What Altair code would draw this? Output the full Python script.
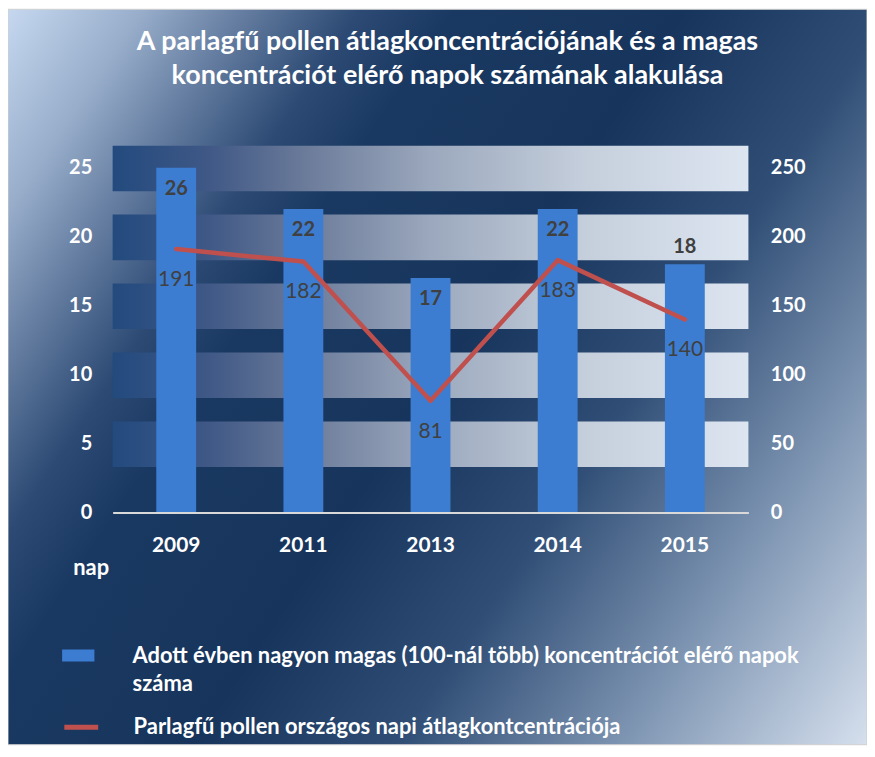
import altair as alt
import pandas as pd

# ---------------- data ----------------
years = ["2009", "2011", "2013", "2014", "2015"]
days = [26, 22, 17, 22, 18]              # napok száma (bal tengely)
conc = [191, 182, 81, 183, 140]          # átlagkoncentráció (jobb tengely)
left_ticks = [0, 5, 10, 15, 20, 25]
right_ticks = [0, 50, 100, 150, 200, 250]
band_lo = [3.3, 8.3, 13.3, 18.3, 23.3]   # decorative stripes (left-axis units)
band_hi = [6.6, 11.6, 16.6, 21.6, 26.6]
title_lines = ["A parlagfű pollen átlagkoncentrációjának és a magas",
               "koncentrációt elérő napok számának alakulása"]
s1 = "Adott évben nagyon magas (100-nál több) koncentrációt elérő napok száma"
s1_lines = ["Adott évben nagyon magas (100-nál több) koncentrációt elérő napok", "száma"]
s2 = "Parlagfű pollen országos napi átlagkontcentrációja"

FONT = "Lato"
W, H = 638, 346
PL, PT, PR, PB = 105, 159, 119, 233

df = pd.DataFrame({"year": years, "days": days, "conc": conc,
                   "s1": [s1] * 5, "s2": [s2] * 5})
bands = pd.DataFrame({"lo": band_lo, "hi": band_hi})

x_enc = alt.X("year:N", sort=years, scale=alt.Scale(paddingInner=0, paddingOuter=0),
              axis=alt.Axis(title=None, labelAngle=0, domainColor="#d9d9d9", domainWidth=2,
                            ticks=False, labelColor="white", labelFont=FONT, labelFontSize=21,
                            labelFontWeight="bold", labelPadding=22, grid=False, zindex=1))

bg_grad = alt.LinearGradient(
    gradient="linear", x1=0, y1=0, x2=1.185, y2=0.681,
    stops=[alt.GradientStop(color="#c6d8f0", offset=0),
           alt.GradientStop(color="#97adca", offset=0.1),
           alt.GradientStop(color="#6880a3", offset=0.17),
           alt.GradientStop(color="#2c4a74", offset=0.26),
           alt.GradientStop(color="#1a3962", offset=0.33),
           alt.GradientStop(color="#17355c", offset=0.5),
           alt.GradientStop(color="#2f4d75", offset=0.65),
           alt.GradientStop(color="#7f96b3", offset=0.82),
           alt.GradientStop(color="#d6e0ee", offset=1.0)])

band_grad = alt.LinearGradient(
    gradient="linear", x1=0, y1=0, x2=1, y2=0,
    stops=[alt.GradientStop(color="#234a7e", offset=0),
           alt.GradientStop(color="#3f5886", offset=0.15),
           alt.GradientStop(color="#6a7a99", offset=0.3),
           alt.GradientStop(color="#9ba8bd", offset=0.5),
           alt.GradientStop(color="#c6d0dd", offset=0.75),
           alt.GradientStop(color="#dce5f0", offset=1.0)])

background = alt.Chart(pd.DataFrame({"a": [0]})).mark_rect(
    color=bg_grad, stroke="#d0d0d0", strokeWidth=1).encode(
    x=alt.value(-PL), x2=alt.value(W + PR), y=alt.value(-PT), y2=alt.value(H + PB))

stripes = alt.Chart(bands).mark_rect(color=band_grad).encode(
    x=alt.value(0), x2=alt.value(W),
    y=alt.Y("lo:Q", scale=alt.Scale(domain=[0, 25]), axis=None),
    y2="hi:Q")

label_expr = ("datum.label == '%s' ? ['%s', '%s'] : datum.label"
              % (s1, s1_lines[0], s1_lines[1]))
leg_common = dict(title=None, orient="none", direction="vertical",
                  labelColor="white", labelFont=FONT, labelFontSize=22, labelFontWeight="bold",
                  labelLimit=900, labelExpr=label_expr)
legend_bar = alt.Legend(legendX=-51, legendY=473, symbolType="M-1,-0.37H1V0.37H-1Z",
                        symbolSize=1050, symbolStrokeWidth=0, labelOffset=38, **leg_common)
legend_line = alt.Legend(legendX=-51, legendY=542, symbolType="stroke",
                         symbolSize=1156, symbolStrokeWidth=5, labelOffset=33, **leg_common)

bars = alt.Chart(df).mark_bar(size=40, clip=True).encode(
    x=x_enc,
    y=alt.Y("days:Q", scale=alt.Scale(domain=[0, 25]),
            axis=alt.Axis(title="nap", values=left_ticks, orient="left", domain=False,
                          ticks=False, grid=False, labelColor="white", labelFont=FONT,
                          labelFontSize=20, labelFontWeight="bold", labelPadding=21,
                          titleAngle=0, titleX=-22, titleY=401, titleAlign="center",
                          titleBaseline="middle", titleColor="white", titleFont=FONT,
                          titleFontSize=22, titleFontWeight="bold", zindex=1)),
    fill=alt.Fill("s1:N", scale=alt.Scale(domain=[s1], range=["#3c7dd1"]), legend=legend_bar))

bar_labels_in = alt.Chart(df).transform_filter("datum.year != '2015'").transform_calculate(
    top="min(datum.days, 25)").mark_text(
    dy=21, font=FONT, fontSize=20, fontWeight="bold", color="#404040").encode(
    x=alt.X("year:N", sort=years, bandPosition=0.5),
    y=alt.Y("top:Q", scale=alt.Scale(domain=[0, 25]), axis=None),
    text="days:Q")

bar_labels_out = alt.Chart(df).transform_filter("datum.year == '2015'").mark_text(
    dy=-17, font=FONT, fontSize=20, fontWeight="bold", color="#404040").encode(
    x=alt.X("year:N", sort=years, bandPosition=0.5),
    y=alt.Y("days:Q", scale=alt.Scale(domain=[0, 25]), axis=None),
    text="days:Q")

line = alt.Chart(df).mark_line(strokeWidth=4.5, strokeCap="round", strokeJoin="round").encode(
    x=alt.X("year:N", sort=years, bandPosition=0.5),
    y=alt.Y("conc:Q", scale=alt.Scale(domain=[0, 250]),
            axis=alt.Axis(title=None, values=right_ticks, orient="right", domain=False,
                          ticks=False, grid=False, labelColor="white", labelFont=FONT,
                          labelFontSize=20, labelFontWeight="bold", labelPadding=22, zindex=1)),
    stroke=alt.Stroke("s2:N", scale=alt.Scale(domain=[s2], range=["#c0504d"]), legend=legend_line))

line_labels = alt.Chart(df).mark_text(
    dy=31, font=FONT, fontSize=21, color="#404040").encode(
    x=alt.X("year:N", sort=years, bandPosition=0.5),
    y=alt.Y("conc:Q", scale=alt.Scale(domain=[0, 250]), axis=None),
    text="conc:Q")

chart = alt.layer(background, stripes, bars, bar_labels_in, bar_labels_out, line, line_labels).resolve_scale(
    y="independent").properties(
    width=W, height=H,
    autosize=alt.AutoSizeParams(type="none"),
    padding={"left": PL, "top": PT, "right": PR, "bottom": PB},
    title=alt.TitleParams(text=title_lines, color="white", font=FONT, fontSize=27,
                          fontWeight="bold", anchor="middle", lineHeight=34, offset=-108,
                          baseline="bottom", dx=17, zindex=1),
    background="white",
).configure(style={"guide-label": {"lineHeight": 29}}, view=alt.ViewConfig(strokeWidth=0))

chart.save("out.html", embed_options={"renderer": "svg", "actions": False})
